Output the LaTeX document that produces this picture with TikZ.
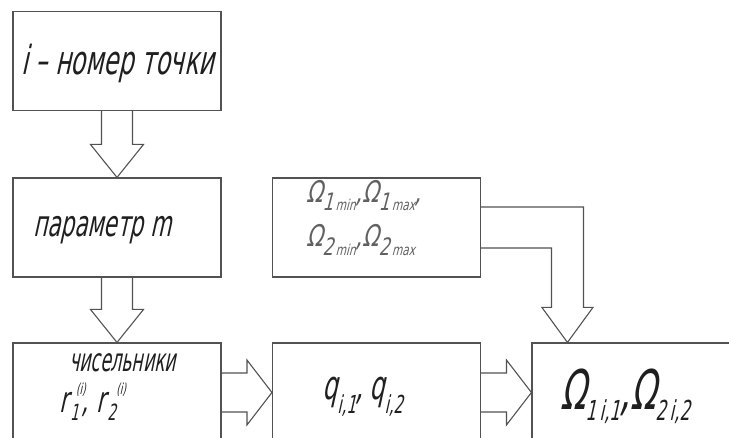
\documentclass[tikz,border=0pt]{standalone}
\usepackage{fontspec}
\usepackage{graphicx}
\usetikzlibrary{calc}
\newfontfamily\gost[FakeStretch=0.6,FakeSlant=0.22]{DejaVu Sans}
% \lowix[scale]{drop}{text}
\newcommand\lowix[3][0.55]{\raisebox{-#2}{\scalebox{#1}{#3}}}
\newcommand\upix[3][0.4]{\raisebox{#2}{\scalebox{#1}{#3}}}
\tikzset{
  blockbox/.style={draw=black!68, line width=1.1pt, minimum width=208pt, minimum height=99pt, inner sep=0pt},
  blockarrow/.style={draw=black!68, line width=1.1pt, line join=miter},
  lbl/.style={font=\gost, text=black!88, anchor=base west, inner sep=0pt},
  lblgray/.style={lbl, text=black!62},
}
\begin{document}
\begin{tikzpicture}[x=1pt,y=-1pt]
\useasboundingbox (0,0) rectangle (729,438);
\clip (0,0) rectangle (729,438);
% boxes
\node[blockbox] (b1) at (117,61) {};
\node[blockbox] (b2) at (117,227.5) {};
\node[blockbox] (b3) at (117,392.5) {};
\node[blockbox] (bq) at (376.5,227.5) {};
\node[blockbox] (b4) at (376.5,392.5) {};
\node[blockbox, minimum width=210pt] (b5) at (637,392.5) {};
% texts
\node[lbl] (t1) at (21,75) {\fontsize{40}{40}\selectfont i – номер точки};
\node[lbl] (t2) at (33,237) {\fontsize{36}{36}\selectfont параметр m};
\node[lbl] (t3a) at (69,372) {\fontsize{32}{32}\selectfont\scalebox{0.9}[1]{чисельники}};
\node[lbl] (t3b) at (59,413) {\fontsize{36}{36}\selectfont
  r\hspace{2pt}\makebox[0pt][l]{\hspace{6pt}\upix[0.42]{18pt}{(i)}}\lowix[0.62]{8pt}{1}\hspace{3pt},\hspace{8pt}r\hspace{2pt}\makebox[0pt][l]{\hspace{9pt}\upix[0.42]{18pt}{(i)}}\lowix[0.62]{8pt}{2}};
\node[lblgray] (tq1) at (306,203) {\fontsize{30}{30}\selectfont\scalebox{1.18}[1]{%
  Ω\lowix[0.8]{8pt}{1}\hspace{2pt}\lowix[0.5]{8pt}{min},Ω\lowix[0.8]{8pt}{1}\hspace{2pt}\lowix[0.5]{8pt}{max},}};
\node[lblgray] (tq2) at (306,247) {\fontsize{30}{30}\selectfont\scalebox{1.18}[1]{%
  Ω\lowix[0.8]{9pt}{2}\hspace{2pt}\lowix[0.5]{9pt}{min},Ω\lowix[0.8]{9pt}{2}\hspace{2pt}\lowix[0.5]{9pt}{max}}};
\node[lbl] (tq) at (322,400) {\fontsize{40}{40}\selectfont
  q\lowix[0.62]{14pt}{i,1},\hspace{6pt}q\lowix[0.62]{14pt}{i,2}};
\node[lbl] (t5) at (560,410) {\fontsize{55}{55}\selectfont
  Ω\lowix[0.5]{11pt}{1\hspace{7pt}i,1},Ω\lowix[0.5]{11pt}{2\hspace{7pt}i,2}};
% down arrows
\foreach \a/\b in {b1/b2, b2/b3}{
  \draw[blockarrow] ($(\a.south)+(-15.5,0)$) -- ($(\b.north)+(-15.5,-33)$) -- ($(\b.north)+(-26.5,-33)$) -- (\b.north)
     -- ($(\b.north)+(26.5,-33)$) -- ($(\b.north)+(15.5,-33)$) -- ($(\a.south)+(15.5,0)$);
}
% right arrows
\foreach \a/\b in {b3/b4, b4/b5}{
  \draw[blockarrow] ($(\a.east)+(0,-19.5)$) -- ($(\b.west)+(-25,-19.5)$) -- ($(\b.west)+(-25,-32.5)$) -- (\b.west)
     -- ($(\b.west)+(-25,32.5)$) -- ($(\b.west)+(-25,19.5)$) -- ($(\a.east)+(0,19.5)$);
}
% bent arrow
\coordinate (tip) at ($(b5.north west)+(36,0)$);
\coordinate (o1) at ($(bq.east)+(0,-20.5)$);
\coordinate (o2) at ($(bq.east)+(0,20.5)$);
\coordinate (hr) at ($(tip)+(16,-35)$);
\coordinate (hl) at ($(tip)+(-16,-35)$);
\draw[blockarrow] (o1) -- (hr |- o1) -- (hr) -- ($(tip)+(25.5,-35)$) -- (tip)
   -- ($(tip)+(-25.5,-35)$) -- (hl) -- (hl |- o2) -- (o2);
\end{tikzpicture}
\end{document}
